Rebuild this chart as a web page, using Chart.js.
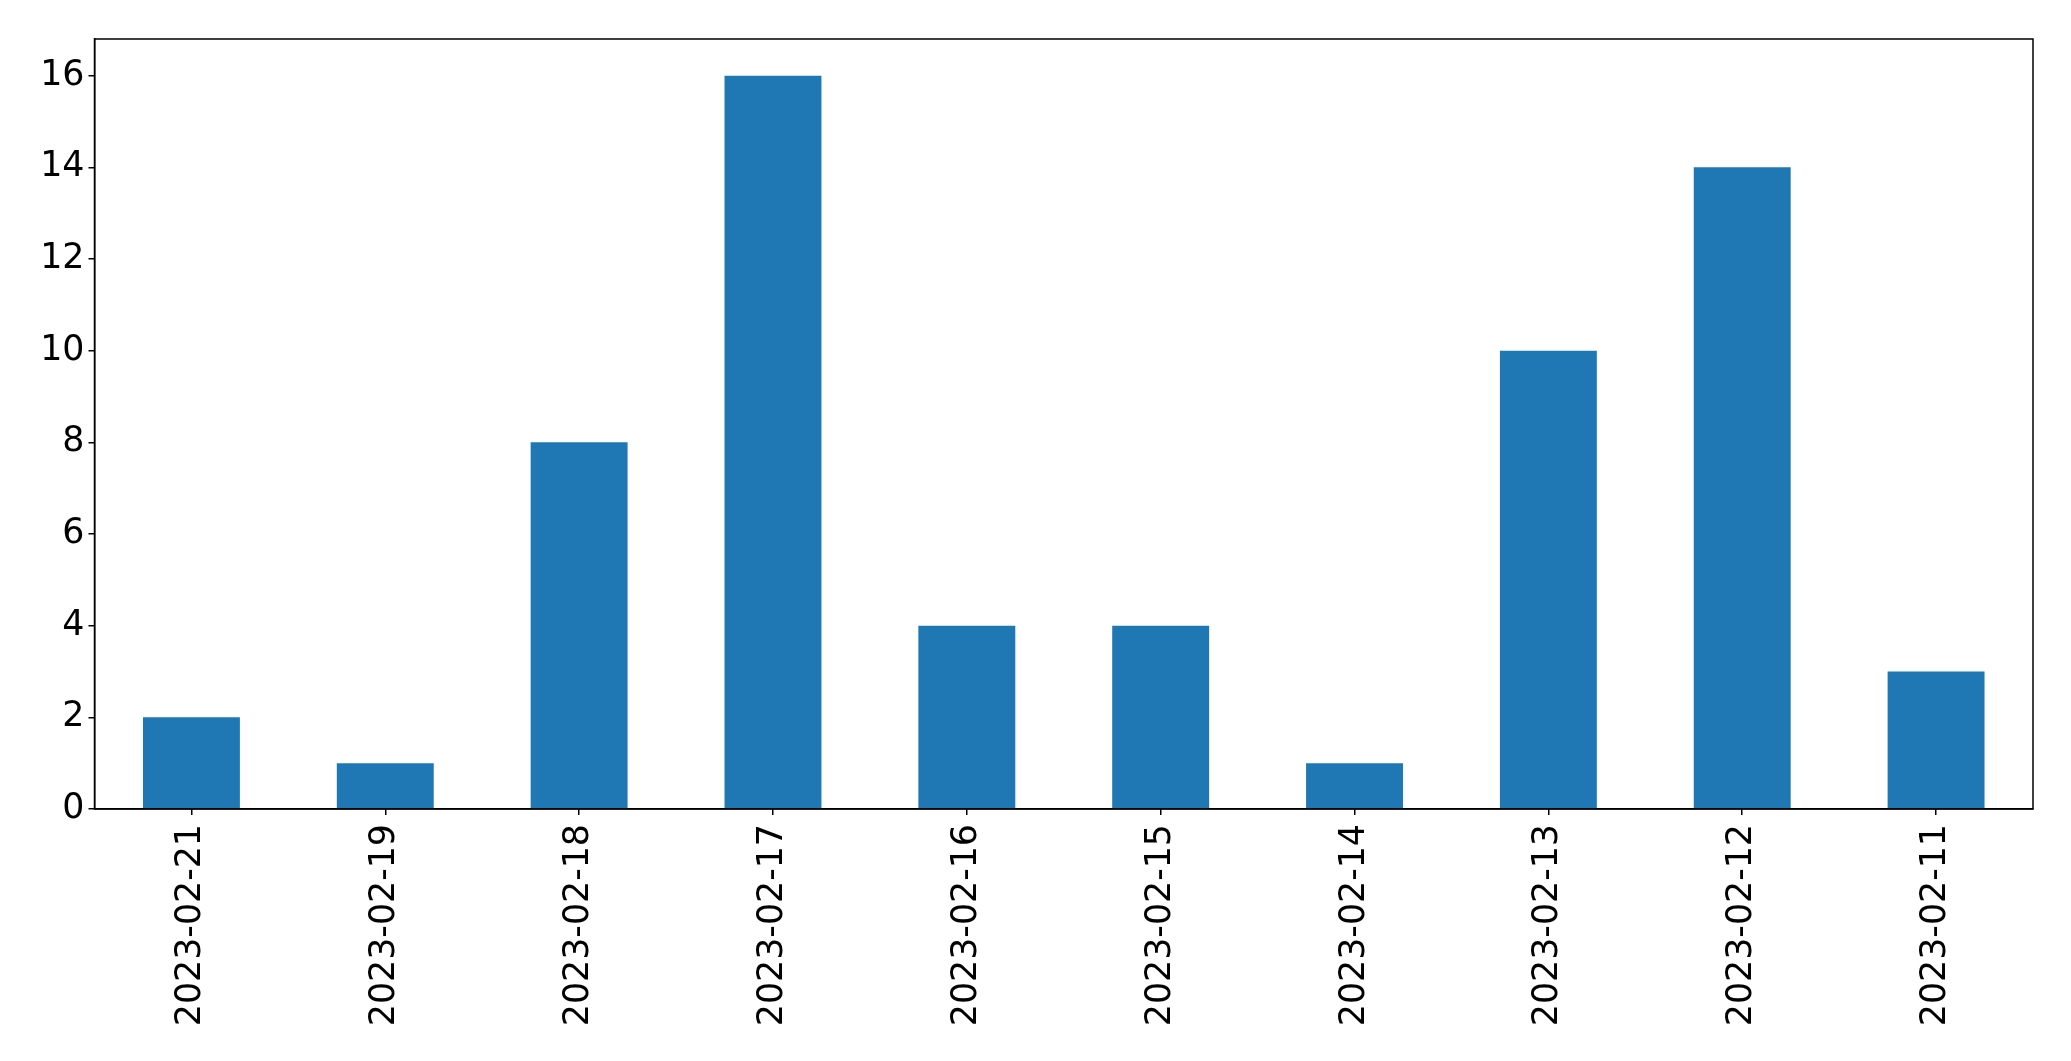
<!DOCTYPE html>
<html lang="en">
<head>
    <meta charset="UTF-8">
    <title>Bar chart</title>
    <style>
        html, body {
            margin: 0;
            padding: 0;
            background-color: #ffffff;
        }
        #wrap {
            width: 2071px;
            height: 1061px;
        }
    </style>
</head>
<body>
    <div id="wrap"><canvas id="barChart" width="2071" height="1061"></canvas></div>

    <script src="https://cdn.jsdelivr.net/npm/chart.js@4.4.0/dist/chart.umd.min.js"></script>
    <script>
        const dates = ['2023-02-21', '2023-02-19', '2023-02-18', '2023-02-17', '2023-02-16',
                       '2023-02-15', '2023-02-14', '2023-02-13', '2023-02-12', '2023-02-11'];
        const counts = [2, 1, 8, 16, 4, 4, 1, 10, 14, 3];
        const yTicks = [0, 2, 4, 6, 8, 10, 12, 14, 16];
        const yMax = 16.8;

        // matplotlib style box round the plot area
        const frame = {
            id: 'frame',
            afterDraw(chart) {
                const { ctx, chartArea: a } = chart;
                ctx.save();
                ctx.strokeStyle = '#000';
                ctx.lineWidth = 1.5;
                ctx.strokeRect(a.left, a.top, a.right - a.left, a.bottom - a.top);
                ctx.restore();
            }
        };

        const font = { family: "'DejaVu Sans', sans-serif", size: 34.8 };

        new Chart(document.getElementById('barChart'), {
            type: 'bar',
            data: {
                labels: dates,
                datasets: [{
                    data: counts,
                    backgroundColor: '#1f77b4',
                    categoryPercentage: 1.0,
                    barPercentage: 0.5
                }]
            },
            options: {
                responsive: false,
                animation: false,
                layout: { padding: { top: 39, right: 38, left: 0, bottom: 0 } },
                plugins: { legend: { display: false }, tooltip: { enabled: false } },
                scales: {
                    x: {
                        grid: { display: true, offset: false, drawOnChartArea: false, drawTicks: true, tickLength: 6, color: '#000', lineWidth: 1.5 },
                        border: { display: true, color: '#000', width: 1.5 },
                        ticks: { color: '#000', font, minRotation: 90, maxRotation: 90, padding: 9, autoSkip: false },
                        afterFit(s) { s.height = 252; }
                    },
                    y: {
                        min: 0,
                        max: yMax,
                        grid: { display: true, drawOnChartArea: false, drawTicks: true, tickLength: 6, color: '#000', lineWidth: 1.5 },
                        border: { display: true, color: '#000', width: 1.5 },
                        ticks: { color: '#000', font, padding: 4 },
                        afterBuildTicks(s) { s.ticks = yTicks.map(v => ({ value: v })); },
                        afterFit(s) { s.width = 94.5; }
                    }
                }
            },
            plugins: [frame]
        });
    </script>
</body>
</html>
